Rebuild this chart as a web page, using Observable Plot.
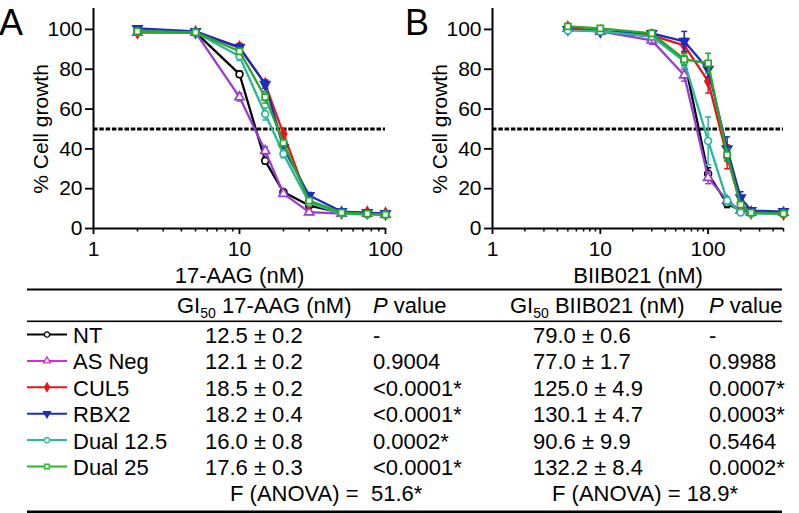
<!DOCTYPE html>
<html><head><meta charset="utf-8">
<script src="https://cdn.jsdelivr.net/npm/d3@7"></script>
<script src="https://cdn.jsdelivr.net/npm/@observablehq/plot@0.6"></script>
<style>
html,body{margin:0;padding:0;background:#fff;}
body{width:799px;height:513px;position:relative;overflow:hidden;font-family:"Liberation Sans",Arial,sans-serif;color:#000;}
.abs{position:absolute;}
svg{overflow:visible;}
</style></head><body>
<script>
// ---- series definitions ----
const groups = ["NT", "AS Neg", "CUL5", "RBX2", "Dual 12.5", "Dual 25"];
const lineColors = ["#000000", "#9b3ad6", "#e8161c", "#1c2cc2", "#2ab89a", "#27a827"];
const legendColors = ["#000000", "#cc33cc", "#e8161c", "#1c2cc2", "#2ab89a", "#27b827"];
const symbols = ["circle", "triangle", "diamond", "triangle", "circle", "square"];
const rotations = [0, 0, 0, 180, 0, 0];
const filled = [false, false, true, true, false, false];

// ---- panel A: 17-AAG ----
const doseA = [2, 5, 10, 15, 20, 30, 50, 75, 100];
const growthA_NT     = [99, 98.5, 77.5, 34, 18.3, 11.5, 8, 7.5, 7];
const growthA_ASNeg  = [98.5, 98.5, 66, 39, 17.5, 8.2, 7.5, 7.5, 7];
const growthA_CUL5   = [98.5, 98.5, 91, 72.5, 47.5, 12.7, 8, 8, 7.5];
const growthA_RBX2   = [100.5, 99, 91, 72.5, 40.5, 16.6, 8.5, 8, 7.5];
const growthA_Dual12 = [99, 98.5, 86.5, 57.5, 37.5, 13, 7.5, 7, 7];
const growthA_Dual25 = [99, 98.5, 89, 66, 43, 14, 8, 7.5, 7];
const sdA_NT     = [1, 0.5, 1.5, 1.5, 1, 1, 0.5, 0.5, 0.5];
const sdA_ASNeg  = [1, 0.5, 2, 2, 1, 1, 0.5, 0.5, 0.5];
const sdA_CUL5   = [1, 0.5, 2, 2, 1.5, 1, 0.5, 0.5, 0.5];
const sdA_RBX2   = [1, 1, 1.5, 2, 3, 1.5, 0.5, 0.5, 0.5];
const sdA_Dual12 = [1, 0.5, 2, 3, 2, 1, 0.5, 0.5, 0.5];
const sdA_Dual25 = [1, 0.5, 1.5, 3, 1.5, 1, 0.5, 0.5, 0.5];
const majorTicksA = [1, 10, 100];
const minorTicksA = [2, 3, 4, 5, 6, 7, 8, 9, 20, 30, 40, 50, 60, 70, 80, 90];

// ---- panel B: BIIB021 ----
const doseB = [5, 10, 30, 60, 100, 150, 200, 250, 500];
const growthB_NT     = [100, 99, 96.5, 85, 27.5, 12.5, 9, 8, 8];
const growthB_ASNeg  = [100.5, 99, 94.5, 77, 25.5, 14, 9, 8, 8];
const growthB_CUL5   = [101, 99, 97, 92, 74, 36, 12.5, 8, 7.5];
const growthB_RBX2   = [100, 99, 98, 94, 80, 40, 15.5, 9, 8.5];
const growthB_Dual12 = [99.5, 99, 96.5, 84, 44, 14, 8, 7.5, 7.5];
const growthB_Dual25 = [101.5, 100.5, 98, 85, 83, 37, 12, 8, 7.5];
const sdB_NT     = [1, 1, 1.5, 3, 3, 2, 1, 0.5, 0.5];
const sdB_ASNeg  = [1, 1, 2, 3, 3, 2, 1, 0.5, 0.5];
const sdB_CUL5   = [1, 1, 1.5, 3.5, 6, 6, 2, 0.5, 0.5];
const sdB_RBX2   = [1, 1.5, 1.5, 5, 4, 6, 3, 1, 1];
const sdB_Dual12 = [1, 1, 1.5, 3, 12, 2, 1, 0.5, 0.5];
const sdB_Dual25 = [1, 1, 1.5, 3, 5, 3, 1.5, 0.5, 0.5];
const majorTicksB = [1, 10, 100];
const minorTicksB = [2, 3, 4, 5, 6, 7, 8, 9, 20, 30, 40, 50, 60, 70, 80, 90, 200, 300, 400, 500];

const yTicks = [0, 20, 40, 60, 80, 100];
const refLine = [50];

// ---- table ----
const gi50AAG = ["12.5 ± 0.2", "12.1 ± 0.2", "18.5 ± 0.2", "18.2 ± 0.4", "16.0 ± 0.8", "17.6 ± 0.3"];
const pAAG = ["-", "0.9004", "<0.0001*", "<0.0001*", "0.0002*", "<0.0001*"];
const gi50BIIB = ["79.0 ± 0.6", "77.0 ± 1.7", "125.0 ± 4.9", "130.1 ± 4.7", "90.6 ± 9.9", "132.2 ± 8.4"];
const pBIIB = ["-", "0.9988", "0.0007*", "0.0003*", "0.5464", "0.0002*"];
const anovaF = ["51.6*", "18.9*"];

const FONT = '"Liberation Sans", Arial, sans-serif';
const capSymbol = {draw(ctx, size) { const r = Math.sqrt(size / Math.PI); ctx.moveTo(-r, 0); ctx.lineTo(r, 0); }};

function panel(o) {
  const marks = [
    Plot.ruleY(refLine, {stroke: "#000", strokeWidth: 3, strokeDasharray: "4.5,1.8"}),
    Plot.axisY({ticks: yTicks, tickSize: 8, tickPadding: 3, label: null, strokeWidth: 1.8, tickFormat: () => ""}),
    Plot.axisX({ticks: o.majors, tickSize: 6, tickPadding: 8, label: null, strokeWidth: 1.8, tickFormat: () => ""}),
    Plot.axisX({ticks: o.minors, tickSize: 3.5, tickPadding: 0, label: null, strokeWidth: 1.5, tickFormat: () => ""}),
    Plot.ruleX([1], {strokeWidth: 2}),
    Plot.ruleY([0], {strokeWidth: 2}),
    Plot.text(yTicks, {y: d => d, text: d => String(d), frameAnchor: "left", dx: -11, textAnchor: "end", lineAnchor: "middle", fontSize: 21}),
    Plot.text(o.majors, {x: d => d, text: d => String(d), frameAnchor: "bottom", dy: 21, textAnchor: "middle", lineAnchor: "middle", fontSize: 21}),
    Plot.text(["% Cell growth"], {text: d => d, y: () => 50, frameAnchor: "left", dx: -52, rotate: -90, textAnchor: "middle", lineAnchor: "middle", fontSize: 21}),
    Plot.text([o.xLabel], {text: d => d, frameAnchor: "bottom", dy: 47, textAnchor: "middle", lineAnchor: "middle", fontSize: 22})
  ];
  o.series.forEach((vals, i) => {
    const sd = o.sds[i];
    const c = lineColors[i];
    const data = o.doses.map((x, j) => ({x, y: vals[j], lo: vals[j] - sd[j], hi: vals[j] + sd[j]}));
    marks.push(
      Plot.ruleX(data, {x: "x", y1: "lo", y2: "hi", stroke: c, strokeWidth: 1.5}),
      Plot.dot(data, {x: "x", y: "hi", symbol: capSymbol, r: 3, stroke: c, fill: "none", strokeWidth: 1.5}),
      Plot.dot(data, {x: "x", y: "lo", symbol: capSymbol, r: 3, stroke: c, fill: "none", strokeWidth: 1.5}),
      Plot.line(data, {x: "x", y: "y", stroke: c, strokeWidth: 2.3}),
      Plot.dot(data, {x: "x", y: "y", symbol: symbols[i], rotate: rotations[i], r: 3.4, stroke: c, strokeWidth: 1.7, fill: filled[i] ? c : "white"})
    );
  });
  const svg = Plot.plot({
    width: o.width, height: 290,
    marginLeft: o.ml, marginRight: o.mr, marginTop: 8, marginBottom: 62,
    x: {type: "log", domain: [1, o.xMax]},
    y: {domain: [0, 110.5]},
    style: {fontFamily: FONT, fontSize: "21px", color: "#000", background: "transparent", overflow: "visible"},
    marks
  });
  const wrap = document.createElement("div");
  wrap.className = "abs";
  wrap.style.left = o.left + "px";
  wrap.style.top = "0px";
  wrap.style.width = o.width + "px";
  wrap.appendChild(svg);
  document.body.appendChild(wrap);
}

panel({doses: doseA, xMax: 100, xLabel: "17-AAG (nM)", majors: majorTicksA, minors: minorTicksA,
  series: [growthA_NT, growthA_ASNeg, growthA_CUL5, growthA_RBX2, growthA_Dual12, growthA_Dual25],
  sds: [sdA_NT, sdA_ASNeg, sdA_CUL5, sdA_RBX2, sdA_Dual12, sdA_Dual25],
  width: 400, ml: 93, mr: 15, left: 0});
panel({doses: doseB, xMax: 500, xLabel: "BIIB021 (nM)", majors: majorTicksB, minors: minorTicksB,
  series: [growthB_NT, growthB_ASNeg, growthB_CUL5, growthB_RBX2, growthB_Dual12, growthB_Dual25],
  sds: [sdB_NT, sdB_ASNeg, sdB_CUL5, sdB_RBX2, sdB_Dual12, sdB_Dual25],
  width: 399, ml: 92, mr: 16, left: 400});

// ---- overlay: panel letters + table ----
const ov = d3.select("body").append("svg").attr("class", "abs")
  .style("left", "0px").style("top", "0px")
  .attr("width", 799).attr("height", 513)
  .style("font-family", FONT).style("pointer-events", "none");

ov.append("text").attr("x", -1).attr("y", 35).attr("font-size", 36).text("A");
ov.append("text").attr("x", 405).attr("y", 35).attr("font-size", 36).text("B");

const T = ov.append("g").attr("font-size", 22).attr("fill", "#000");
T.append("rect").attr("x", 27).attr("y", 288.5).attr("width", 755).attr("height", 2);
T.append("rect").attr("x", 27).attr("y", 320.5).attr("width", 755).attr("height", 1.6);
T.append("rect").attr("x", 27).attr("y", 510.5).attr("width", 755).attr("height", 2.5);

function giHeader(x, rest) {
  const t = T.append("text").attr("x", x).attr("y", 312.5);
  t.append("tspan").text("GI");
  t.append("tspan").attr("font-size", 14).attr("dy", 5).text("50");
  t.append("tspan").attr("dy", -5).text(" " + rest);
}
function pHeader(x) {
  const t = T.append("text").attr("x", x).attr("y", 312.5);
  t.append("tspan").attr("font-style", "italic").text("P");
  t.append("tspan").text(" value");
}
giHeader(177, "17-AAG (nM)");
pHeader(373);
giHeader(510, "BIIB021 (nM)");
pHeader(709);

const symMap = {circle: d3.symbolCircle, triangle: d3.symbolTriangle, diamond: d3.symbolDiamond, square: d3.symbolSquare};
groups.forEach((g, i) => {
  const base = 343 + 26.4 * i;
  const cy = base - 8.5;
  const c = legendColors[i];
  T.append("line").attr("x1", 27).attr("x2", 67).attr("y1", cy).attr("y2", cy).attr("stroke", c).attr("stroke-width", 2);
  T.append("path").attr("d", d3.symbol(symMap[symbols[i]], symbols[i] === "circle" ? 22 : 20)())
    .attr("transform", `translate(47,${cy}) rotate(${rotations[i]})`)
    .attr("fill", filled[i] ? c : "white").attr("stroke", c).attr("stroke-width", 1.4);
  T.append("text").attr("x", 73).attr("y", base).text(g);
  T.append("text").attr("x", 205).attr("y", base).text(gi50AAG[i]);
  T.append("text").attr("x", 373).attr("y", base).text(pAAG[i]);
  T.append("text").attr("x", 533).attr("y", base).text(gi50BIIB[i]);
  T.append("text").attr("x", 709).attr("y", base).text(pBIIB[i]);
});
const fBase = 343 + 26.4 * 6;
T.append("text").attr("x", 230).attr("y", fBase).text("F (ANOVA) =");
T.append("text").attr("x", 371).attr("y", fBase).text(anovaF[0]);
T.append("text").attr("x", 552).attr("y", fBase).text("F (ANOVA) = " + anovaF[1]);
</script>
</body></html>
